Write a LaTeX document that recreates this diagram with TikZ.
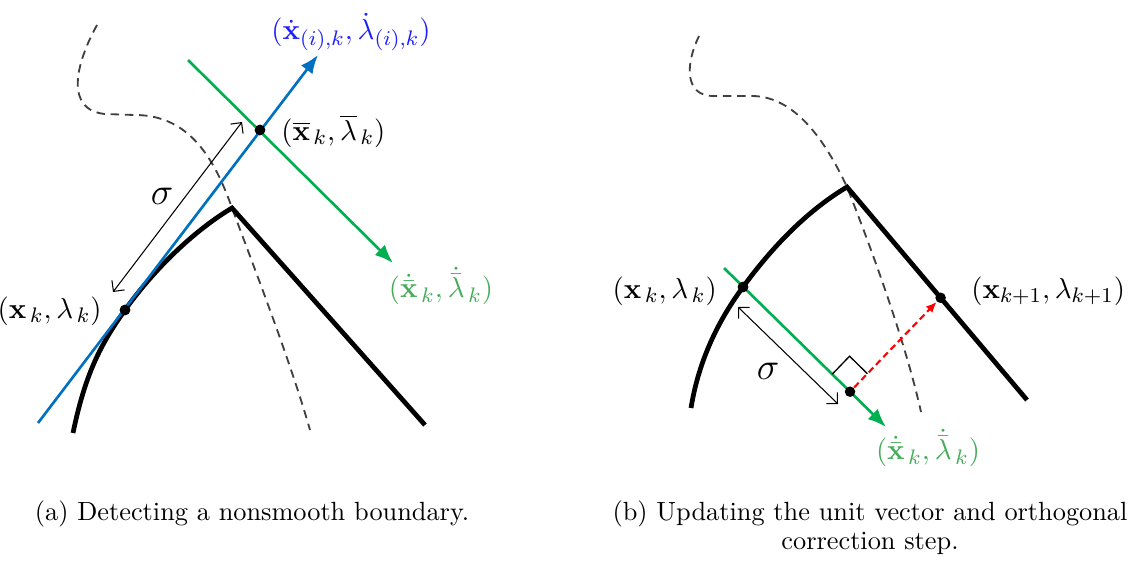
\documentclass[tikz,border=0pt]{standalone}
\usepackage{amsmath,amssymb}
\usetikzlibrary{arrows.meta,calc}

\definecolor{tanblue}{RGB}{0,112,192}
\definecolor{labblue}{RGB}{30,30,250}
\definecolor{corgreen}{RGB}{0,176,80}
\definecolor{labgreen}{RGB}{70,172,90}

\begin{document}
\begin{tikzpicture}[x=0.38pt, y=-0.38pt,
    bnd/.style={line width=1.8pt},
    ghost/.style={draw=black!75, line width=0.7pt, dash pattern=on 3.2pt off 2.2pt},
    tang/.style={draw=tanblue, line width=1pt, -{Latex[length=7pt,width=5.5pt]}},
    corr/.style={draw=corgreen, line width=1pt, -{Latex[length=7pt,width=5.5pt]}},
    fix/.style={draw=red, line width=0.8pt, dash pattern=on 2.5pt off 1.5pt,
                -{Latex[length=4pt,width=3.5pt]}},
    pt/.style={circle, fill=black, inner sep=0pt, minimum size=4pt},
    dist/.style={line width=0.4pt,
                 {Straight Barb[length=3pt]}-{Straight Barb[length=3pt]}},
    lab/.style={font=\fontsize{11}{13}\selectfont},
]
\useasboundingbox (0,0) rectangle (1137,560);

% (a) detecting the boundary
\coordinate (kinka) at (232,208);
\node[pt] (xa) at (125,310) {};
\node[pt] (xbar) at (260,130) {};
\draw[ghost] (97,25) .. controls (75,65) and (65,110) .. (105,114) -- (135,115)
  .. controls (190,115) and (215,160) .. (kinka)
  .. controls (255,270) and (290,360) .. (310,430);
\draw[bnd] (73,433) .. controls (85,375) and (100,345) .. (xa.center)
  .. controls (155,268) and (195,230) .. (kinka) -- (425,425);
\coordinate (ta) at (38,423);
\coordinate (tb) at (318,55);
\draw[tang] (ta) -- (tb);
\coordinate (ca) at (188,60);
\coordinate (cb) at (393,263);
\draw[corr] (ca) -- (cb);
\node[pt] at (xa) {};
\node[pt] at (xbar) {};
\coordinate (sa) at (242,122);
\coordinate (sb) at (113,292);
\draw[dist] (sa) -- (sb);
\node[font=\Large] (siga) at (162,196) {$\sigma$};

\node[lab, text=labblue] (tlab) at (351,32)
  {$(\dot{\mathbf{x}}_{(i),k},\dot{\lambda}_{(i),k})$};
\node[lab, anchor=west] (barlab) at (272,131)
  {$(\overline{\mathbf{x}}_{\,k},\overline{\lambda}_{\,k})$};
\node[lab, anchor=east] (xalab) at (111,311)
  {$(\mathbf{x}_{\,k},\lambda_{\,k})$};
\node[lab, text=labgreen] (clab) at (441,286)
  {$(\dot{\bar{\mathbf{x}}}_{\,k},\dot{\bar{\lambda}}_{\,k})$};

% (b) unit vector and correction
\coordinate (kinkb) at (847,187);
\coordinate (endb) at (1027,400);
\node[pt] (xb) at (743,287) {};
\node[pt] (xnext) at ($(kinkb)!0.52!(endb)$) {};
\draw[ghost] (699,36) .. controls (685,65) and (685,95) .. (712,96) -- (753,96)
  .. controls (795,97) and (825,140) .. (kinkb)
  .. controls (870,245) and (905,340) .. (921,412);
\draw[bnd] (691,408) .. controls (698,365) and (715,325) .. (xb.center)
  .. controls (770,250) and (805,212) .. (kinkb) -- (endb);
\coordinate (ga) at (724,268);
\coordinate (gb) at (886,427);
\draw[corr] (ga) -- (gb);
\node[pt] (pred) at ($(ga)!0.778!(gb)$) {};
\draw[fix] (pred) -- (xnext);
\coordinate (m1) at ($(pred.center)!9.5pt!(ga)$);
\coordinate (m2) at ($(pred.center)!9.5pt!(xnext.center)$);
\draw[line width=0.5pt] (m1) -- ($(m1)+(m2)-(pred.center)$) -- (m2);
\node[pt] at (xb) {};
\coordinate (sc) at (738,307);
\coordinate (sd) at (838,404);
\draw[dist] (sc) -- (sd);
\node[font=\Large] (sigb) at (768,371) {$\sigma$};

\node[lab, anchor=east] (xblab) at (726,291)
  {$(\mathbf{x}_{\,k},\lambda_{\,k})$};
\node[lab, anchor=west] (nextlab) at (962,291)
  {$(\mathbf{x}_{k+1},\lambda_{k+1})$};
\node[lab, text=labgreen] (glab) at (928,448)
  {$(\dot{\bar{\mathbf{x}}}_{\,k},\dot{\bar{\lambda}}_{\,k})$};

% captions
\node (capa) at (252,514) {(a) Detecting a nonsmooth boundary.};
\node[align=center] (capb) at (870,528)
  {(b) Updating the unit vector and orthogonal\\[-1pt]correction step.};
\end{tikzpicture}
\end{document}
